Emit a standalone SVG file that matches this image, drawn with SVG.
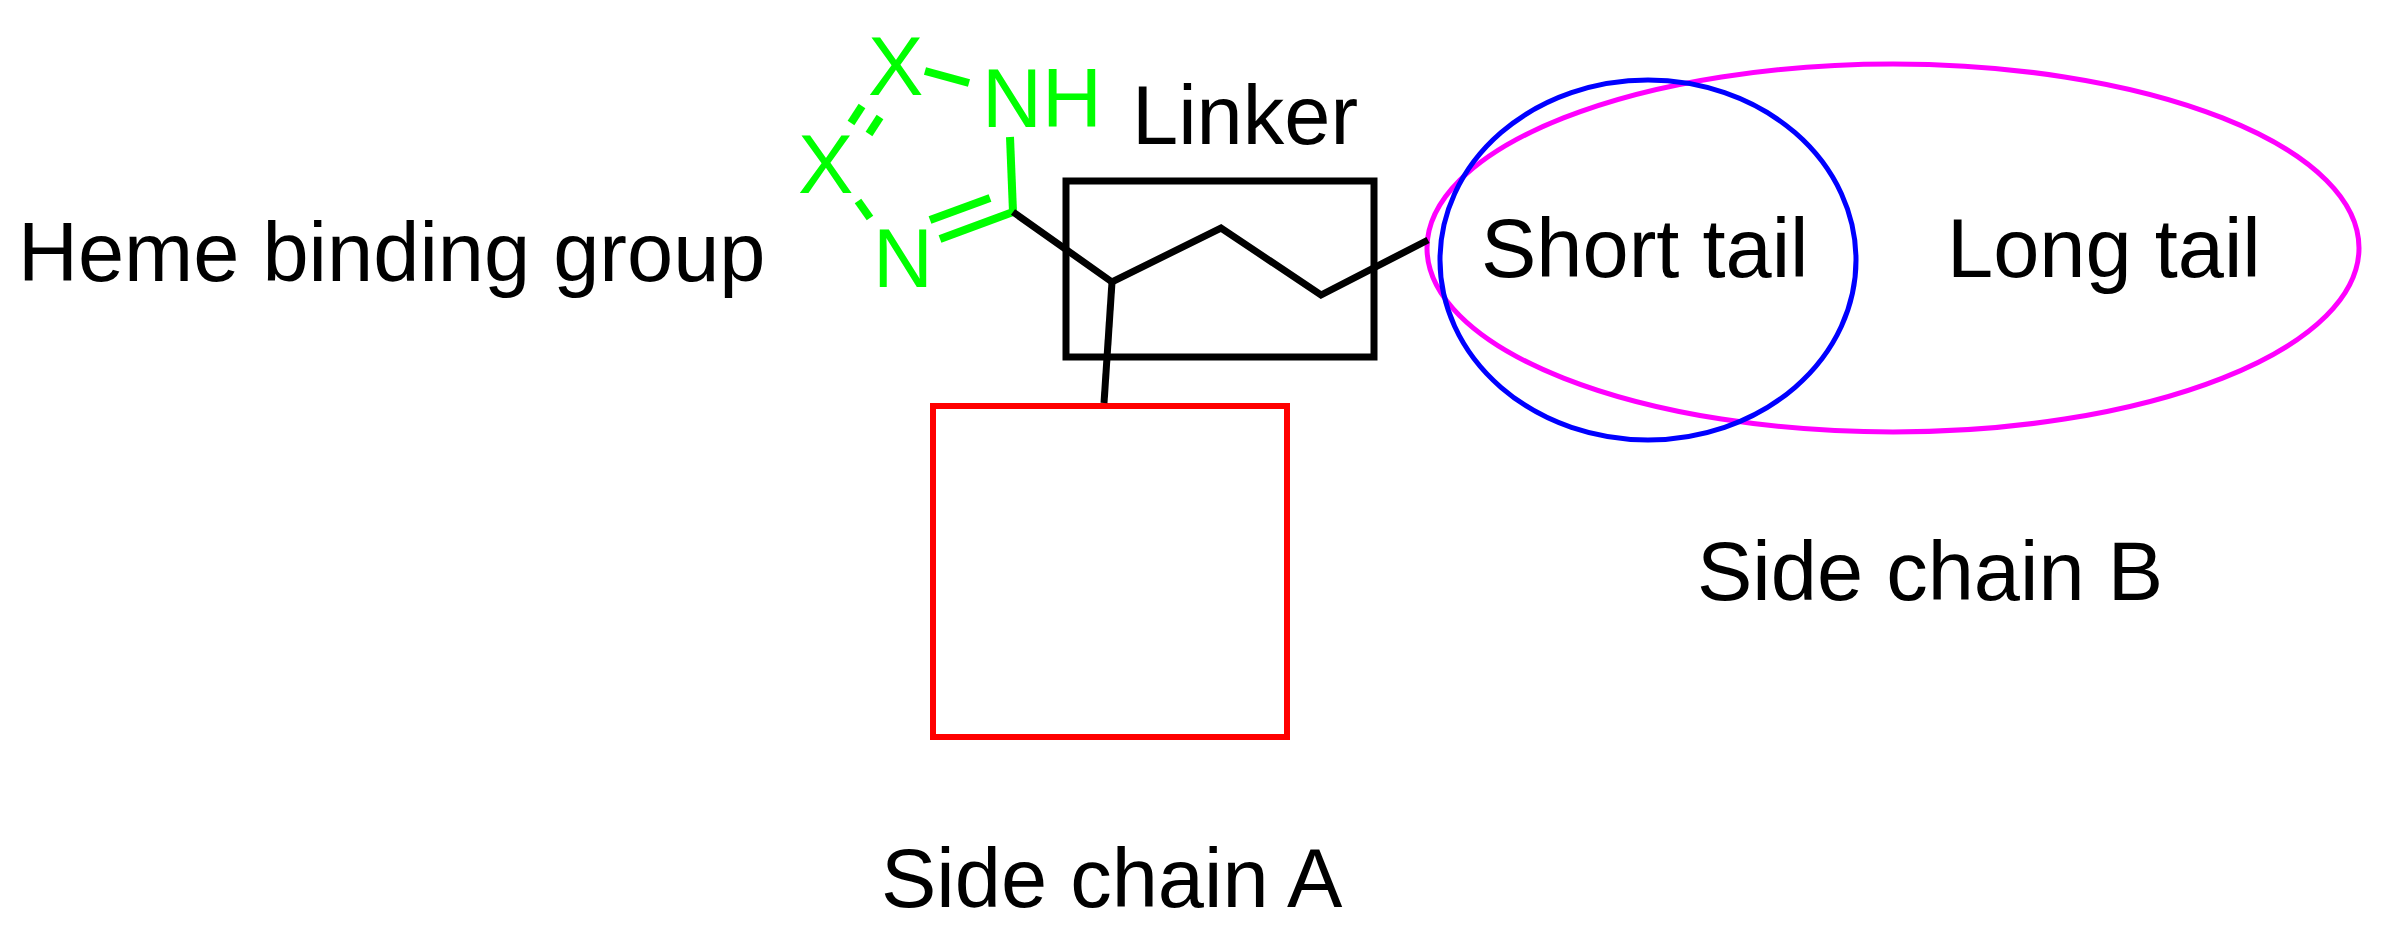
<svg xmlns="http://www.w3.org/2000/svg" width="2382" height="929" viewBox="0 0 2382 929">
<style>
text{font-family:"Liberation Sans",Arial,sans-serif;font-size:83px;fill:#000}
.g{fill:#00ff00}
.gb{stroke:#00ff00;stroke-width:8;fill:none;stroke-linecap:butt}
.k{stroke:#000;stroke-width:7;fill:none;stroke-linejoin:miter}
</style>
<rect width="2382" height="929" fill="#fff"/>
<g id="heme-label"><text x="18" y="281">Heme binding group</text></g>
<g id="ring">
<text class="g" x="868" y="95">X</text>
<text class="g" x="982" y="127">NH</text>
<text class="g" x="798" y="193">X</text>
<text class="g" x="873" y="287">N</text>
<line class="gb" x1="925" y1="71" x2="969" y2="83"/>
<line class="gb" x1="1010" y1="137" x2="1013" y2="212"/>
<line class="gb" x1="1013" y1="212" x2="940" y2="239"/>
<line class="gb" x1="990" y1="198" x2="930" y2="220"/>
<line class="gb" x1="858" y1="201" x2="870" y2="218"/>
<line class="gb" x1="862" y1="106" x2="851" y2="123"/>
<line class="gb" x1="880" y1="117" x2="869" y2="134"/>
</g>
<g id="linker">
<rect class="k" x="1066" y="181" width="308" height="176"/>
<text x="1132" y="144">Linker</text>
</g>
<g id="side-chain-a">
<rect x="933" y="406" width="354" height="331" fill="none" stroke="#ff0000" stroke-width="6"/>
<text x="881" y="907">Side chain A</text>
</g>
<g id="side-chain-b">
<ellipse cx="1893" cy="248" rx="466" ry="184" fill="none" stroke="#ff00ff" stroke-width="5"/>
<ellipse cx="1648" cy="260" rx="208" ry="180" fill="none" stroke="#0000ff" stroke-width="5"/>
<text x="1481" y="277">Short tail</text>
<text x="1947" y="277">Long tail</text>
<text x="1697" y="600">Side chain B</text>
</g>
<g id="connectors">
<polyline class="k" points="1013,212 1112,282 1221,228 1321,295 1428,240"/>
<line class="k" x1="1112" y1="282" x2="1104" y2="403"/>
</g>
</svg>
